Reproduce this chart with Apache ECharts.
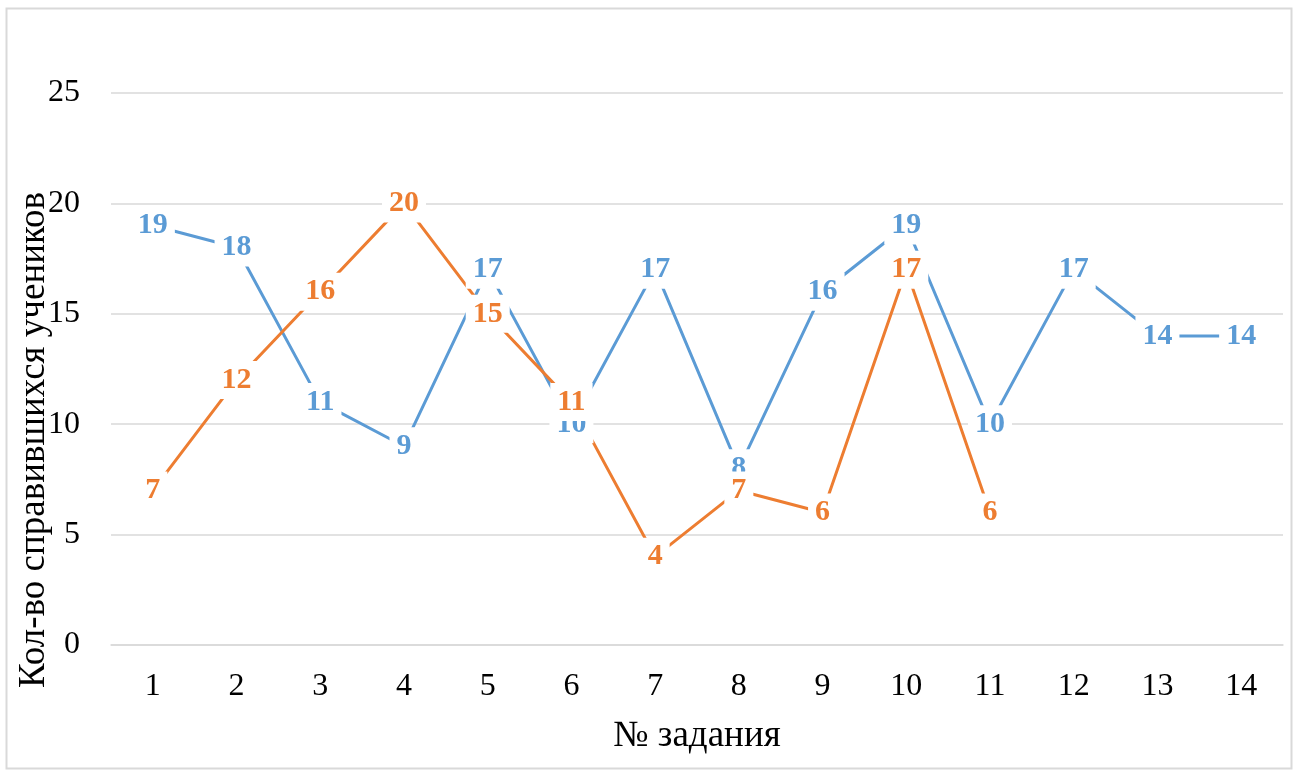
<!DOCTYPE html>
<html>
<head>
<meta charset="utf-8">
<script src="https://cdn.jsdelivr.net/npm/echarts@6/dist/echarts.min.js"></script>
<style>
  html, body { margin: 0; padding: 0; background: #fff; }
  #chart { width: 1301px; height: 771px; }
</style>
</head>
<body>
<div id="chart"></div>
<script>
// Task numbers along the x axis
const tasks = ['1', '2', '3', '4', '5', '6', '7', '8', '9', '10', '11', '12', '13', '14'];
// Number of students who solved each task, per group
const seriesBlue = [19, 18, 11, 9, 17, 10, 17, 8, 16, 19, 10, 17, 14, 14];
const seriesOrange = [7, 12, 16, 20, 15, 11, 4, 7, 6, 17, 6, null, null, null];
// Value axis range
const yMin = 0;
const yMax = 25;
const yStep = 5;

const FONT = '"Liberation Serif", "Times New Roman", serif';
const BLUE = '#5B9BD5';
const ORANGE = '#ED7D31';

function lineSeries(data, color) {
  return {
    type: 'line',
    data: data,
    symbol: 'circle',
    symbolSize: 1,
    showAllSymbol: true,
    itemStyle: { color: 'rgba(0,0,0,0)' },
    lineStyle: { color: color, width: 3 },
    connectNulls: false,
    label: {
      show: true,
      position: 'inside',
      color: color,
      fontFamily: FONT,
      fontWeight: 'bold',
      fontSize: 30,
      backgroundColor: '#fff',
      padding: [5, 7, 3, 7]
    },
    z: 2
  };
}

const chart = echarts.init(document.getElementById('chart'), null, { renderer: 'canvas' });
chart.setOption({
  animation: false,
  backgroundColor: '#fff',
  graphic: [
    {
      type: 'rect',
      shape: { x: 6.5, y: 8.5, width: 1285, height: 760 },
      style: { fill: 'none', stroke: '#D9D9D9', lineWidth: 2 },
      silent: true,
      z: -10
    },
    {
      type: 'text',
      x: 34,
      y: 440,
      rotation: Math.PI / 2,
      style: {
        text: 'Кол-во справившихся учеников',
        fontFamily: FONT,
        fontSize: 37,
        fill: '#000',
        align: 'center',
        verticalAlign: 'middle'
      }
    }
  ],
  grid: { left: 111, right: 18, top: 93, bottom: 126 },
  xAxis: {
    type: 'category',
    data: tasks,
    boundaryGap: true,
    name: '№ задания',
    nameLocation: 'middle',
    nameGap: 73,
    nameTextStyle: { fontFamily: FONT, fontSize: 37, color: '#000' },
    axisLine: { show: true, lineStyle: { color: '#D9D9D9', width: 1.5 } },
    axisTick: { show: false },
    axisLabel: { fontFamily: FONT, fontSize: 32, color: '#000', margin: 26 }
  },
  yAxis: {
    type: 'value',
    min: yMin,
    max: yMax,
    interval: yStep,
    axisLine: { show: false },
    axisTick: { show: false },
    splitLine: { lineStyle: { color: '#D9D9D9', width: 1.5 } },
    axisLabel: { fontFamily: FONT, fontSize: 32, color: '#000', margin: 31 }
  },
  series: [
    lineSeries(seriesBlue, BLUE),
    lineSeries(seriesOrange, ORANGE)
  ]
});
</script>
</body>
</html>
